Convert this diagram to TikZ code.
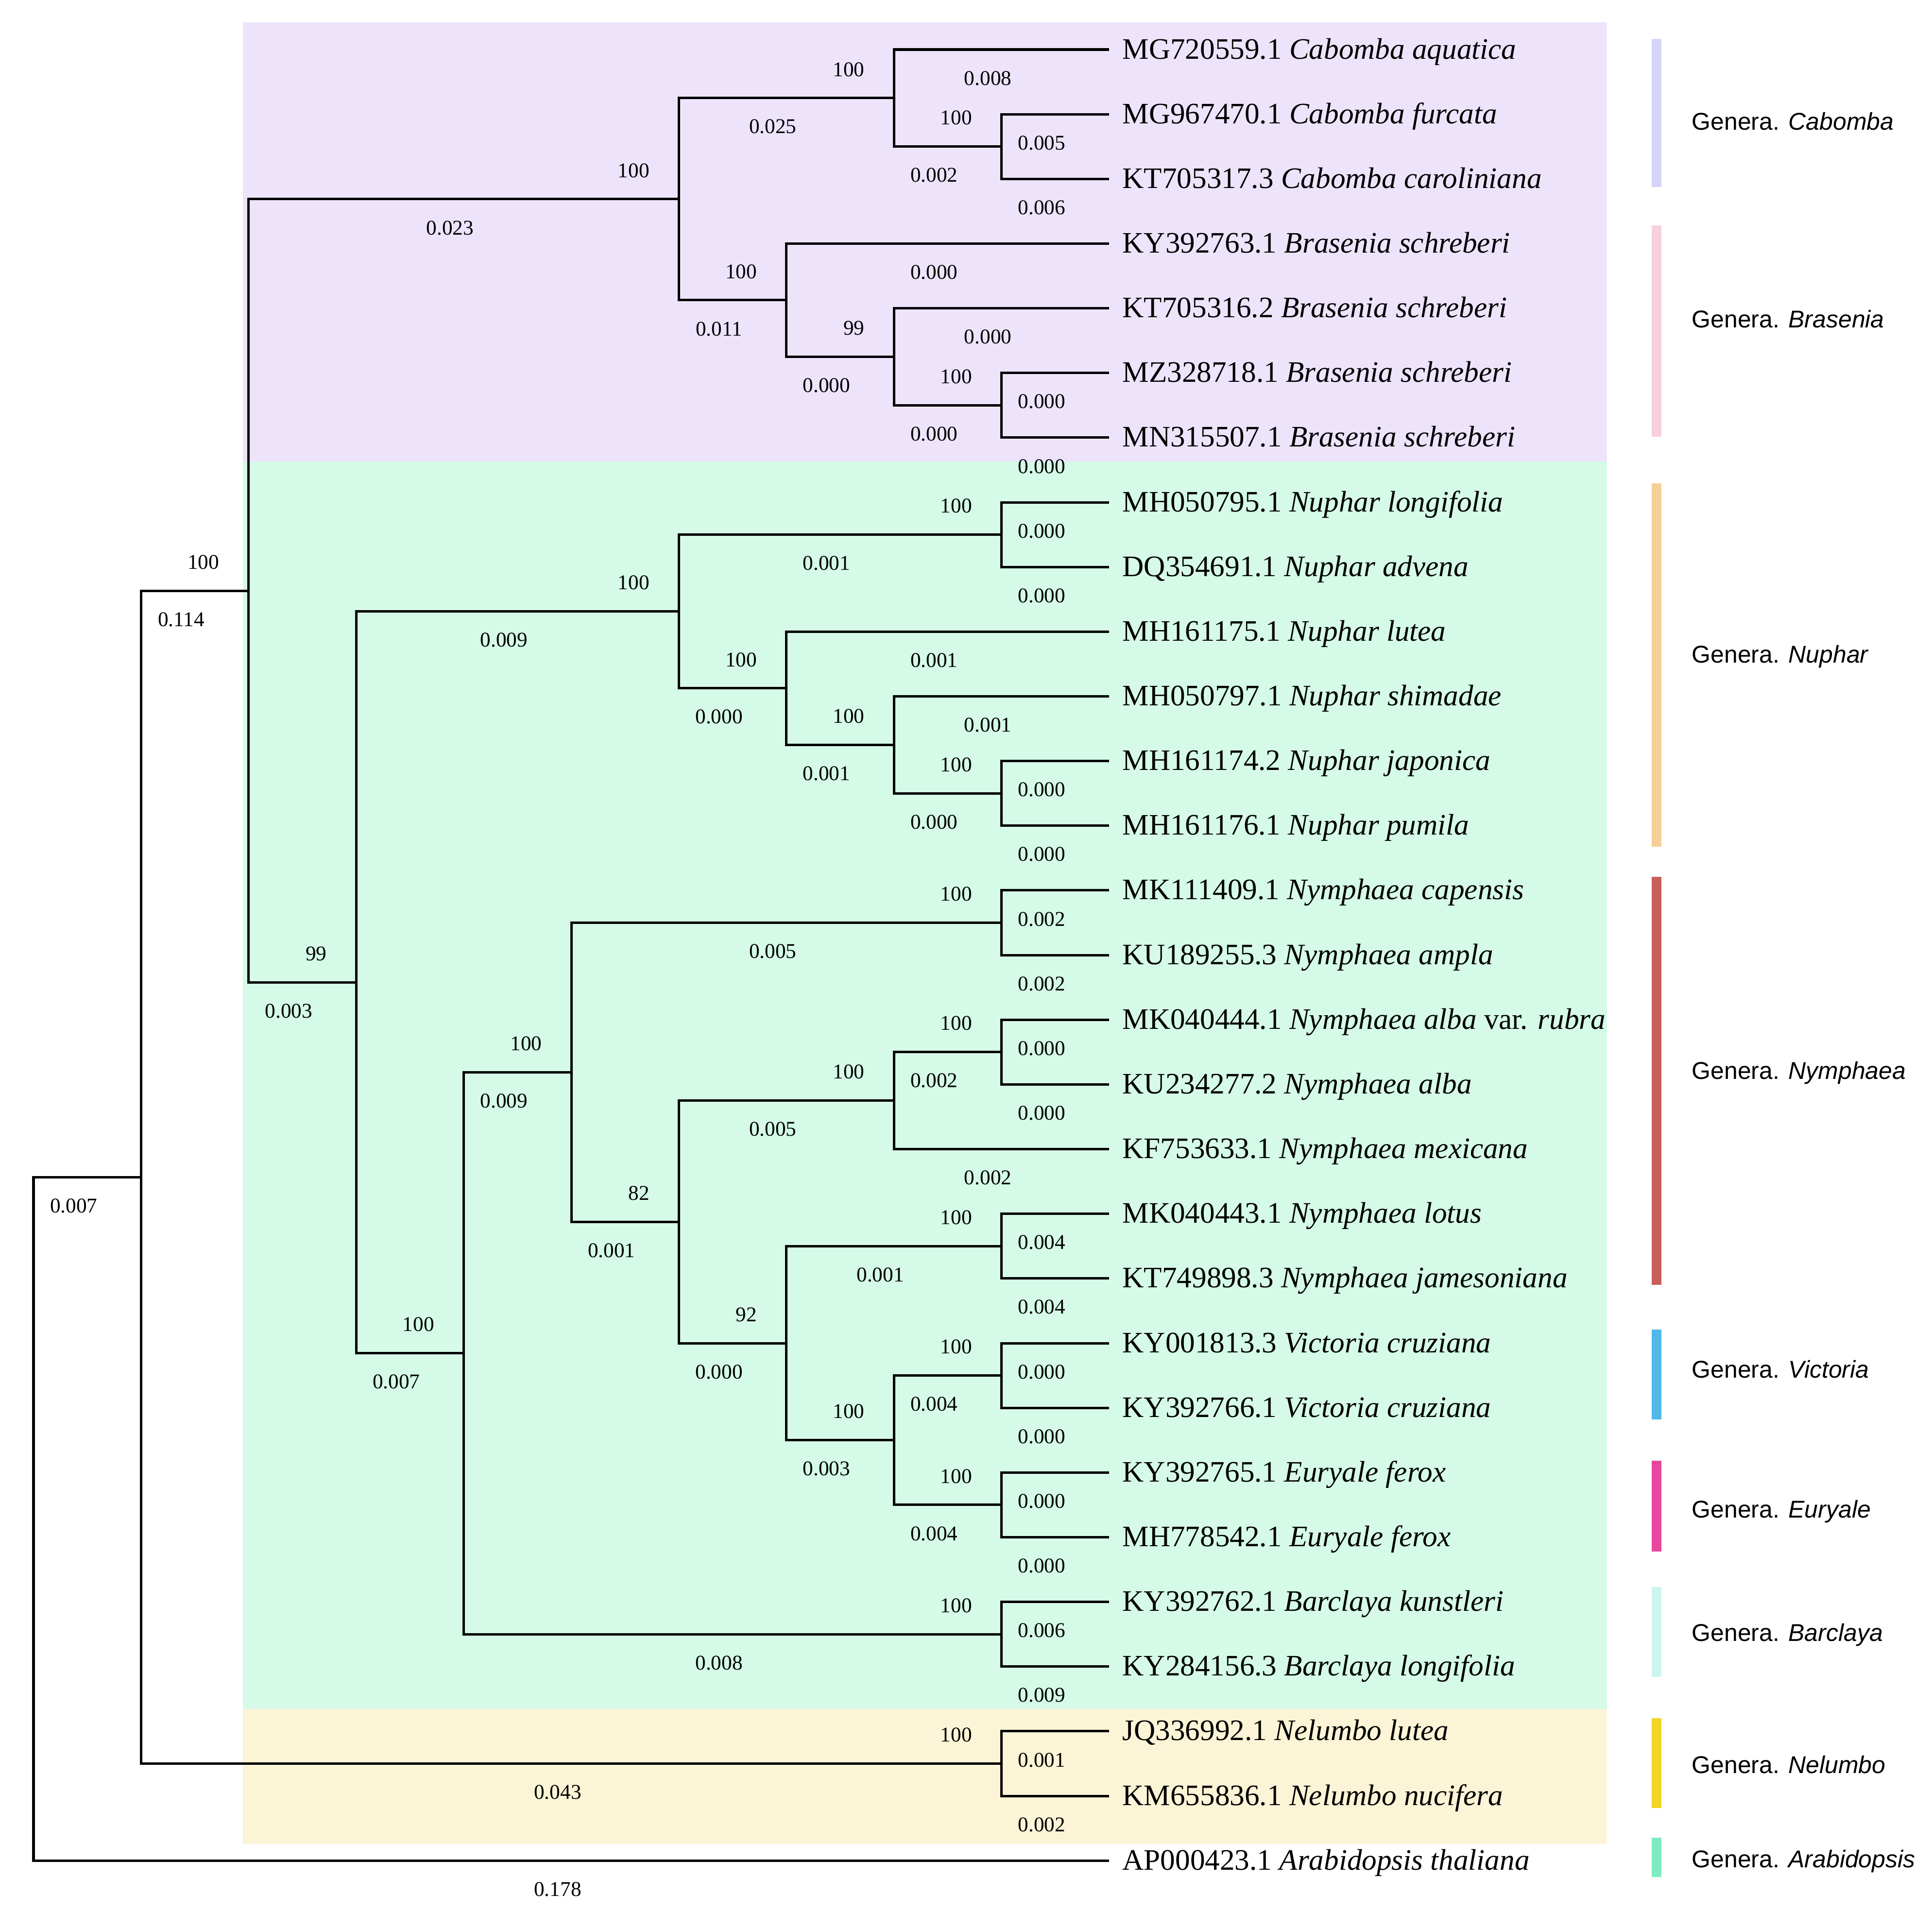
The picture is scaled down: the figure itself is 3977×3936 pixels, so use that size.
\documentclass[tikz,border=0pt]{standalone}
\usepackage{fontspec}
\setmainfont{Liberation Serif}
\setsansfont{Liberation Sans}
\definecolor{bandP}{RGB}{237,228,252}
\definecolor{bandG}{RGB}{213,250,232}
\definecolor{bandY}{RGB}{252,244,214}
\definecolor{barCab}{RGB}{213,213,250}
\definecolor{barBra}{RGB}{248,208,220}
\definecolor{barNup}{RGB}{245,207,152}
\definecolor{barNym}{RGB}{200,96,90}
\definecolor{barVic}{RGB}{79,184,232}
\definecolor{barEur}{RGB}{232,71,159}
\definecolor{barBar}{RGB}{204,245,240}
\definecolor{barNel}{RGB}{242,212,36}
\definecolor{barAra}{RGB}{126,236,192}
\tikzset{
  br/.style={line width=0.05cm, black},
  bllab/.style={font=\fontsize{12.3pt}{14pt}\selectfont, inner sep=0pt},
  bslab/.style={font=\fontsize{12.3pt}{14pt}\selectfont, inner sep=0pt, anchor=east},
  tiplab/.style={font=\fontsize{17.4pt}{20pt}\selectfont, inner sep=0pt, anchor=base west},
  genlab/.style={font=\sffamily\fontsize{14.2pt}{17pt}\selectfont, inner sep=0pt, anchor=base west},
}
\newcommand\TY[1]{102+#1*133.15}
\newcommand\LX[1]{69+#1*221.4}
\newcommand\mytip[3]{%
  \coordinate (#1) at ({\LX{10}},{\TY{#2}});
  \node[tiplab] (lab-#1) at ([xshift=0.27cm,yshift=-0.19cm]#1) {#3};}
\newcommand\mynode[3]{\coordinate (#1) at ({\LX{#2}},{\TY{#3}});}
\newcommand\myedge[3]{%
  \draw[br] (#1) |- (#2);
  \path (#1 |- #2) -- (#2) node[bllab, midway, xshift=-0.28cm, yshift=-0.59cm] (bl-#2) {#3};}
\newcommand\myboot[2]{\node[bslab] (bs-#1) at ([xshift=-0.6cm,yshift=0.59cm]#1) {#2};}
\begin{document}
\begin{tikzpicture}[x=0.01cm,y=-0.01cm]
\useasboundingbox (0,0) rectangle (3977,3936);
% background bands
\fill[bandP] (500,46) rectangle (3308,950);
\fill[bandG] (500,950) rectangle (3308,3518);
\fill[bandY] (500,3518) rectangle (3308,3796);
% tips
\mytip{t0}{0}{MG720559.1 \textit{Cabomba aquatica}}
\mytip{t1}{1}{MG967470.1 \textit{Cabomba furcata}}
\mytip{t2}{2}{KT705317.3 \textit{Cabomba caroliniana}}
\mytip{t3}{3}{KY392763.1 \textit{Brasenia schreberi}}
\mytip{t4}{4}{KT705316.2 \textit{Brasenia schreberi}}
\mytip{t5}{5}{MZ328718.1 \textit{Brasenia schreberi}}
\mytip{t6}{6}{MN315507.1 \textit{Brasenia schreberi}}
\mytip{t7}{7}{MH050795.1 \textit{Nuphar longifolia}}
\mytip{t8}{8}{DQ354691.1 \textit{Nuphar advena}}
\mytip{t9}{9}{MH161175.1 \textit{Nuphar lutea}}
\mytip{t10}{10}{MH050797.1 \textit{Nuphar shimadae}}
\mytip{t11}{11}{MH161174.2 \textit{Nuphar japonica}}
\mytip{t12}{12}{MH161176.1 \textit{Nuphar pumila}}
\mytip{t13}{13}{MK111409.1 \textit{Nymphaea capensis}}
\mytip{t14}{14}{KU189255.3 \textit{Nymphaea ampla}}
\mytip{t15}{15}{MK040444.1 \textit{Nymphaea alba} var. \textit{rubra}}
\mytip{t16}{16}{KU234277.2 \textit{Nymphaea alba}}
\mytip{t17}{17}{KF753633.1 \textit{Nymphaea mexicana}}
\mytip{t18}{18}{MK040443.1 \textit{Nymphaea lotus}}
\mytip{t19}{19}{KT749898.3 \textit{Nymphaea jamesoniana}}
\mytip{t20}{20}{KY001813.3 \textit{Victoria cruziana}}
\mytip{t21}{21}{KY392766.1 \textit{Victoria cruziana}}
\mytip{t22}{22}{KY392765.1 \textit{Euryale ferox}}
\mytip{t23}{23}{MH778542.1 \textit{Euryale ferox}}
\mytip{t24}{24}{KY392762.1 \textit{Barclaya kunstleri}}
\mytip{t25}{25}{KY284156.3 \textit{Barclaya longifolia}}
\mytip{t26}{26}{JQ336992.1 \textit{Nelumbo lutea}}
\mytip{t27}{27}{KM655836.1 \textit{Nelumbo nucifera}}
\mytip{t28}{28}{AP000423.1 \textit{Arabidopsis thaliana}}
% internal nodes
\mynode{root}{0}{22.7168}
\mynode{A}{1}{17.43359}
\mynode{N}{2}{8.3671875}
\mynode{Cab}{6}{2.3125}
\mynode{Cabomba}{8}{0.75}
\mynode{c12}{9}{1.5}
\mynode{Bras}{7}{3.875}
\mynode{b99}{8}{4.75}
\mynode{b56}{9}{5.5}
\mynode{Nym}{3}{14.421875}
\mynode{Nup}{6}{8.6875}
\mynode{n78}{9}{7.5}
\mynode{n9}{7}{9.875}
\mynode{n10}{8}{10.75}
\mynode{n1112}{9}{11.5}
\mynode{R}{4}{20.15625}
\mynode{R2}{5}{15.8125}
\mynode{cap}{9}{13.5}
\mynode{R3}{6}{18.125}
\mynode{alba}{8}{16.25}
\mynode{a1516}{9}{15.5}
\mynode{R4}{7}{20}
\mynode{lot}{9}{18.5}
\mynode{VE}{8}{21.5}
\mynode{Vic}{9}{20.5}
\mynode{Eur}{9}{22.5}
\mynode{Bar}{9}{24.5}
\mynode{Nel}{9}{26.5}
% edges
\myedge{root}{A}{0.007}
\myedge{root}{t28}{0.178}
\myedge{A}{N}{0.114}\myboot{N}{100}
\myedge{A}{Nel}{0.043}\myboot{Nel}{100}
\myedge{N}{Cab}{0.023}\myboot{Cab}{100}
\myedge{N}{Nym}{0.003}\myboot{Nym}{99}
\myedge{Cab}{Cabomba}{0.025}\myboot{Cabomba}{100}
\myedge{Cab}{Bras}{0.011}\myboot{Bras}{100}
\myedge{Cabomba}{t0}{0.008}
\myedge{Cabomba}{c12}{0.002}\myboot{c12}{100}
\myedge{c12}{t1}{0.005}
\myedge{c12}{t2}{0.006}
\myedge{Bras}{t3}{0.000}
\myedge{Bras}{b99}{0.000}\myboot{b99}{99}
\myedge{b99}{t4}{0.000}
\myedge{b99}{b56}{0.000}\myboot{b56}{100}
\myedge{b56}{t5}{0.000}
\myedge{b56}{t6}{0.000}
\myedge{Nym}{Nup}{0.009}\myboot{Nup}{100}
\myedge{Nym}{R}{0.007}\myboot{R}{100}
\myedge{Nup}{n78}{0.001}\myboot{n78}{100}
\myedge{Nup}{n9}{0.000}\myboot{n9}{100}
\myedge{n78}{t7}{0.000}
\myedge{n78}{t8}{0.000}
\myedge{n9}{t9}{0.001}
\myedge{n9}{n10}{0.001}\myboot{n10}{100}
\myedge{n10}{t10}{0.001}
\myedge{n10}{n1112}{0.000}\myboot{n1112}{100}
\myedge{n1112}{t11}{0.000}
\myedge{n1112}{t12}{0.000}
\myedge{R}{R2}{0.009}\myboot{R2}{100}
\myedge{R}{Bar}{0.008}\myboot{Bar}{100}
\myedge{R2}{cap}{0.005}\myboot{cap}{100}
\myedge{R2}{R3}{0.001}\myboot{R3}{82}
\myedge{cap}{t13}{0.002}
\myedge{cap}{t14}{0.002}
\myedge{R3}{alba}{0.005}\myboot{alba}{100}
\myedge{R3}{R4}{0.000}\myboot{R4}{92}
\myedge{alba}{a1516}{0.002}\myboot{a1516}{100}
\myedge{alba}{t17}{0.002}
\myedge{a1516}{t15}{0.000}
\myedge{a1516}{t16}{0.000}
\myedge{R4}{lot}{0.001}\myboot{lot}{100}
\myedge{R4}{VE}{0.003}\myboot{VE}{100}
\myedge{lot}{t18}{0.004}
\myedge{lot}{t19}{0.004}
\myedge{VE}{Vic}{0.004}\myboot{Vic}{100}
\myedge{VE}{Eur}{0.004}\myboot{Eur}{100}
\myedge{Vic}{t20}{0.000}
\myedge{Vic}{t21}{0.000}
\myedge{Eur}{t22}{0.000}
\myedge{Eur}{t23}{0.000}
\myedge{Bar}{t24}{0.006}
\myedge{Bar}{t25}{0.009}
\myedge{Nel}{t26}{0.001}
\myedge{Nel}{t27}{0.002}
% genus bars
\fill[barCab] (3400,80) rectangle (3420,385);
\fill[barBra] (3400,464) rectangle (3420,899);
\fill[barNup] (3400,995) rectangle (3420,1743);
\fill[barNym] (3400,1805) rectangle (3420,2645);
\fill[barVic] (3400,2737) rectangle (3420,2922);
\fill[barEur] (3400,3007) rectangle (3420,3194);
\fill[barBar] (3400,3267) rectangle (3420,3452);
\fill[barNel] (3400,3537) rectangle (3420,3722);
\fill[barAra] (3400,3783) rectangle (3420,3864);
% genus labels
\node[genlab] (gCab) at (3482,267) {Genera. \textit{Cabomba}};
\node[genlab] (gBra) at (3482,674) {Genera. \textit{Brasenia}};
\node[genlab] (gNup) at (3482,1364) {Genera. \textit{Nuphar}};
\node[genlab] (gNym) at (3482,2221) {Genera. \textit{Nymphaea}};
\node[genlab] (gVic) at (3482,2836) {Genera. \textit{Victoria}};
\node[genlab] (gEur) at (3482,3124) {Genera. \textit{Euryale}};
\node[genlab] (gBar) at (3482,3378) {Genera. \textit{Barclaya}};
\node[genlab] (gNel) at (3482,3650) {Genera. \textit{Nelumbo}};
\node[genlab] (gAra) at (3482,3844) {Genera. \textit{Arabidopsis}};
\end{tikzpicture}
\end{document}
